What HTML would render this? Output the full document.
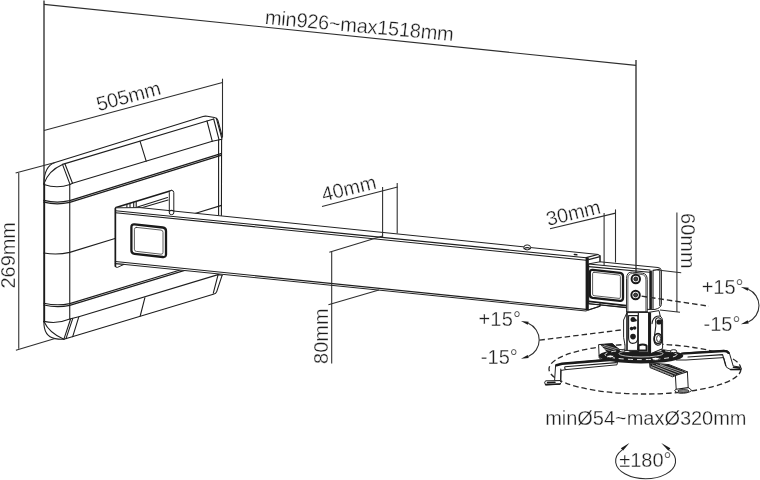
<!DOCTYPE html>
<html><head><meta charset="utf-8"><title>Projector wall mount dimensions</title>
<style>
html,body{margin:0;padding:0;background:#fff;}
body{width:760px;height:480px;overflow:hidden;}
svg{display:block;will-change:transform;}
.t{font-family:"Liberation Sans",sans-serif;font-size:20px;fill:#1e1e1e;stroke:#fff;stroke-width:.3;}
.d{stroke:#2e2e2e;stroke-width:1.08;fill:none;}
.p{stroke:#1e1e1e;stroke-width:1.1;fill:none;stroke-linecap:round;stroke-linejoin:round;}
.pk{stroke:#1a1a1a;stroke-width:1.6;fill:none;stroke-linecap:round;stroke-linejoin:round;}
.th{stroke:#333;stroke-width:.8;fill:none;stroke-linecap:round;}
.w{fill:#fff;stroke:#222;stroke-width:1;stroke-linejoin:round;}
.k{fill:#1c1c1c;stroke:none;}
.ds{stroke:#2a2a2a;stroke-width:1.3;fill:none;stroke-dasharray:5.5 3;}
</style></head>
<body>
<svg width="760" height="480" viewBox="0 0 760 480">
<rect width="760" height="480" fill="#fff"/>



<!-- ===== WALL PLATE ===== -->
<g id="plate">
<!-- outline -->
<path class="pk" style="stroke-width:1.9" d="M44.2 183.7V321.6"/>
<path class="p" d="M43.9 183.7Q44.2 166 55 162.5L203 116.5Q205 115.9 207.2 116.3L214.4 117.5Q217.2 118 217.9 120.4L222.3 136.6L221.6 139.5L221.4 215.5M218.6 140V215"/>
<path class="p" d="M195 213.5L221.5 205.4"/>
<path class="p" d="M43.9 183.7Q48.5 170.5 62.5 164.4L207 121L213.7 119"/>
<path class="p" d="M62.5 164.4L70 184.4M64.9 163.7L72.5 183.3"/>
<path class="p" d="M43.9 184.4Q57 189 70 184.4L72.5 183.3L212.3 141.3L221.8 139.3"/>
<path class="p" d="M207 121L212.3 141.3M213.7 119L219 139.6M216.4 118.4L221.6 137.5"/>
<path class="p" d="M140 141.2L146.2 161.2"/>
<path class="p" d="M69.75 184.4V319"/>
<path class="p" style="stroke-width:1.35" d="M43.9 200.4Q57 203.6 69.75 200.6L220.9 153.6M43.9 202.2Q57 205.4 69.75 202.4L220.9 155.4"/>
<path class="p" d="M43.9 253Q57 255.4 69.75 252.4L115 238.5"/>
<path class="p" d="M43.9 303.2Q57 306.2 69.75 303.6L184.2 268.8M43.9 305Q57 308 69.75 305.4L188 269.4"/>
<path class="p" d="M43.9 321.4Q57 324.4 69.75 319L78.8 316.8L218.1 274.6L222.1 275.3"/>
<path class="p" d="M43.9 321.6Q43.6 336.5 55 338.6Q60 339.6 63.9 339.2L213.3 294.3Q216 293.6 216.7 291.6L222.1 275.3"/>
<path class="p" d="M43.9 321.6Q49.5 333.5 63.9 339.2"/>
<path class="p" d="M70.6 319L63.9 339.2M72.8 318.4L66 338.6M78.8 316.8L72.7 336.6"/>
<path class="p" d="M218.1 274.6L213.3 293.2"/>
<path class="p" d="M144.9 297.7L140.2 316"/>
</g>

<!-- ===== ARM ===== -->
<g id="arm">
<!-- bracket behind -->
<path class="pk" d="M116 207.6L171.6 190.5"/>
<path class="p" d="M137.5 206.9L167.5 197.5M140 208.3L168.1 200"/>
<path class="p" d="M126.9 204.5V208.2M130 203.5V208.2M133.7 202.3V208.2M136.2 201.6V208.2"/>
<!-- arm body -->
<path class="w" d="M115.3 208.4L116 207.8L140 207.6L597.5 254.4L600 255.6V306.2L588 310L586 311L124 264.4L117.4 267.4Q115.3 267.4 115.3 266Z"/>
<path class="p" d="M115.5 210.75L586.2 257.75M115.5 212.75L586.2 260.2"/>
<path class="p" d="M115.3 261.5L586 309.4"/>
<path class="p" d="M115.3 263.6L124 264.4"/>
<path class="pk" d="M115.4 208.4V266.4"/>
<!-- post in front -->
<path class="w" d="M169.3 192.6Q169.3 190.4 171.5 190.4Q173.8 190.4 173.8 192.6V213Q173.8 214.6 171.5 214.6Q169.3 214.6 169.3 213Z"/>
<path class="p" d="M169.3 211Q171.5 209.8 173.8 211"/>
<ellipse class="w" cx="527.2" cy="247.4" rx="3.4" ry="2.5"/>
<path class="p" d="M524 248.6Q527.2 246.6 530.4 248.6"/>
<path class="pk" d="M574.4 254.5L576.8 254.8"/>
<!-- emblem 1 -->
<path d="M134.6 224.4L162.8 227.5Q166 227.9 166 231.1V254.2Q166 257.4 162.8 257L134.6 253.8Q131.4 253.4 131.4 250.2V227.2Q131.4 224 134.6 224.4Z" fill="#fff" stroke="#1a1a1a" stroke-width="2.3" stroke-linejoin="round"/>
<path class="th" d="M136.4 227.4L161 230.1Q163 230.3 163 232.3V252.4Q163 254.4 161 254.2L136.4 251.4Q134.4 251.2 134.4 249.2V229.3Q134.4 227.2 136.4 227.4Z"/>
</g>

<!-- ===== JOINT ===== -->
<g id="joint">
<!-- inner tube -->
<path class="w" d="M600 261.8L658 267.5Q661 267.8 661.4 270.4V304.4Q661 308 655 309.4L651 309.6L626.3 307.5L588.7 303.7V263.9Z"/>
<path class="p" d="M588.7 264L650 270M588.7 266.6L649.4 272.2"/>
<path class="p" d="M653 270.4L659.4 269.4M659.8 271V305.6M653 271V308.4"/>
<path d="M650.6 270.6V309" stroke="#1a1a1a" stroke-width="2.6" fill="none"/>
<path d="M588.7 301.4L626.3 305.6" stroke="#1a1a1a" stroke-width="1.8" fill="none"/>
<path class="p" d="M588.7 303.8L626.3 307.6"/>
<!-- outer arm end -->
<path d="M587.2 257.6V310.2" stroke="#1a1a1a" stroke-width="3.2" fill="none"/>
<path class="p" d="M586.2 257.6L598 254.5M588.6 259.6L600 256.6M600 255.6V261.8M600 302.6V306.2M588.6 310L600 306.2"/>
<!-- emblem 2 -->
<path d="M592.6 269.8L620 272.8Q623 273.2 623 276.2V298Q623 301 620 300.8L592.6 297.8Q589.8 297.4 589.8 294.4V272.8Q589.8 269.6 592.6 269.8Z" fill="#fff" stroke="#1a1a1a" stroke-width="2.3" stroke-linejoin="round"/>
<path class="th" d="M594 272.3L619 275Q620.4 275.2 620.4 276.6V297.2Q620.4 298.6 619 298.4L594 295.7Q592.6 295.5 592.6 294.1V273.7Q592.6 272.2 594 272.3Z"/>
<!-- screw panel -->
<path class="w" d="M626.6 312V278.5Q626.6 271.6 632.5 272.1L642.4 273.2Q647.2 273.8 647.2 279.5V312Z"/>
<path class="th" d="M627.9 312V279Q627.9 273.2 632.8 273.5L642 274.5Q645.9 275 645.9 280V312"/>
<circle cx="635.8" cy="279" r="4.2" fill="#fff" stroke="#1a1a1a" stroke-width="2"/>
<circle cx="635.8" cy="279" r="2" fill="#444" stroke="#1a1a1a" stroke-width=".9"/>
<circle cx="635.6" cy="295" r="4.2" fill="#fff" stroke="#1a1a1a" stroke-width="2"/>
<circle cx="635.6" cy="295" r="2" fill="#444" stroke="#1a1a1a" stroke-width=".9"/>
</g>

<!-- ===== MOUNT ===== -->
<g id="mount">
<!-- dashed circle (behind) -->
<ellipse class="ds" cx="645" cy="369" rx="96" ry="25"/>
<!-- back-left arm with hatching -->
<path class="w" d="M598.6 344.6L599.2 358L604 360.6L622 352.8L612.4 343.6Z"/>
<path class="k" d="M600 344.2L612.2 343.4L622.6 351.2L608 353.2Z"/>
<path d="M602 346L617 350.6M601.4 348L614 351.8M603.6 345L619.4 349.6" stroke="#fff" stroke-width=".5" fill="none"/>
<!-- left long arm -->
<path class="w" d="M555.6 365.4L561.8 363.6L612 359L618 359L617 364.8L566 369.6L561 370.4L560.6 381L554.6 380.6Z"/>
<path d="M556.4 365.2L562 363.8L616 359.4" stroke="#1a1a1a" stroke-width="2.6" fill="none" stroke-linecap="round"/>
<path class="p" d="M565 366.8L616.4 362.6M565 366.8Q564 368.6 566 369.6M560.8 369V381"/>
<path class="w" d="M545.6 380.8L560 380.6Q562.4 382.6 560 384.2L546 384.8Q543.2 383 545.6 380.8Z"/>
<path class="pk" d="M545.6 384.6L560 384"/>
<path class="pk" d="M547.6 382.6L555 382.3"/>
<!-- right long arm -->
<path class="w" d="M676 355L683.7 353L723.7 350.4Q727.6 350.2 729.2 352.4L733.2 366L740.4 367.2Q742 368.4 740.6 369.6L730.6 369.6L726.4 367.2L723.7 357.6L686 360L676 360Z"/>
<path d="M682 353.6L723.7 351Q727 350.9 728.4 352.8" stroke="#1a1a1a" stroke-width="2.4" fill="none" stroke-linecap="round"/>
<path class="p" d="M688 357L722.6 354.6L725.6 365.4"/>
<path class="pk" d="M730.6 369.5L740.6 369.5M733.4 367.2L740 368"/>
<!-- front-right arm -->
<path class="w" d="M649.6 362.8L669 364.6L687.4 371.8L688.2 387.6Q691 389 691.6 390.6Q688 393.6 680 393.2Q675.4 392.4 674.6 390.6L676.2 389.2L675.4 375.6L672.6 376.8L650 367.6Z"/>
<path class="k" d="M650 363.2L668.6 364.8L685.4 371.4L672.8 376.2L650.4 367.2Z"/>
<path d="M652 364.8L676 374.4M656 364.4L679.6 373.2M660 364.6L683 372.2M651 366.6L673 375.6" stroke="#fff" stroke-width=".6" fill="none"/>
<path class="p" d="M675.4 375.6L687.4 371.8M676.2 389.2L688.2 387.6"/>
<ellipse cx="683.4" cy="391" rx="5.6" ry="1.5" fill="#888" stroke="#1a1a1a" stroke-width=".8"/>
<!-- hub -->
<ellipse cx="641" cy="355.8" rx="42.4" ry="7.6" fill="#1c1c1c"/>
<ellipse cx="641" cy="354.6" rx="36" ry="5" fill="none" stroke="#fff" stroke-width=".9" stroke-dasharray="5 4"/>
<ellipse cx="641" cy="353.6" rx="22" ry="3.4" fill="#1c1c1c" stroke="#fff" stroke-width=".7"/>
<ellipse class="w" cx="673.6" cy="351.2" rx="3.2" ry="1.5"/>
<ellipse class="w" cx="610.2" cy="356.4" rx="3.4" ry="1.5"/>
<ellipse class="w" cx="655.6" cy="358.8" rx="3.8" ry="1.6"/>
<ellipse class="w" cx="627" cy="351.2" rx="3" ry="1.3"/>
<!-- swivel bracket: front plate -->
<path class="w" d="M627 312.6L623.6 320V337.4L625 345V350.4L637.6 350.4L638.4 312.6Z"/>
<path class="pk" d="M627 313V350"/>
<path class="p" d="M628.6 315.6H637.8V338Q637.6 343.4 632.6 343.4Q628.6 343 628.6 338Z"/>
<circle class="k" cx="633" cy="319.6" r="2.5"/><circle class="k" cx="635.4" cy="320.2" r="1.3"/>
<circle class="k" cx="631.6" cy="328.6" r="1.8"/><circle class="k" cx="634.6" cy="328" r="1.8"/>
<circle class="k" cx="633" cy="336.6" r="2.8"/>
<!-- middle gap -->
<path class="w" d="M638.4 312.4H648.6V352H638.4Z"/>
<!-- hex nut -->
<path class="k" d="M637.6 346Q637.6 343.4 642.6 343.4Q647.6 343.4 647.6 346V351.6H637.6Z"/>
<path d="M639.6 346.2Q642.6 344.6 645.6 346.2V349.6H639.6Z" fill="#fff"/>
<!-- right side plate -->
<path class="w" d="M648.6 312.4L659 310.6L660.2 316Q662.6 318 662.6 321V348.6L650.8 353.6H648.6Z"/>
<path d="M649.8 312.4V354" stroke="#1a1a1a" stroke-width="2.6" fill="none"/>
<path class="p" d="M652 323.6Q652.6 317.6 657 316.2L660.2 316"/>
<path class="p" d="M655.6 320Q656 317.6 658.8 317.8Q662 318.6 661.6 322.6L661.4 326L661.8 341.6Q660.6 345.4 657.6 345.2Q654 344.4 654 339.6L655.8 326Z"/>
<circle cx="659" cy="322" r="2.6" fill="#1c1c1c"/>
<ellipse cx="658" cy="338.6" rx="3.8" ry="5" fill="#fff" stroke="#1a1a1a" stroke-width="1.6"/>
<ellipse cx="658.6" cy="338.6" rx="2" ry="3.2" fill="none" stroke="#1a1a1a" stroke-width=".9"/>
<!-- upper panel bottom edge & end-cap bottom -->
<path class="p" d="M626.6 312H647.2"/>
</g>

<!-- ===== dimension lines ===== -->
<g class="d">
<path d="M44 0.5V184" stroke-width="1.35"/>
<path d="M44 4.4L636 65.4"/>
<path d="M636 60V272" stroke-width="1.35"/>
<path d="M44 130.5L222.5 82.5"/>
<path d="M222.5 78.7V137"/>
<path d="M15.6 173.1L55 162.5"/>
<path d="M18.75 173V348.7"/>
<path d="M15.9 350.2L55 338.4"/>
<path d="M322 206.6L397.6 187.1"/>
<path d="M382.6 187V237.5"/>
<path d="M397.2 183V233.6"/>
<path d="M329.3 252.3L382.6 236"/>
<path d="M331.7 251.8V363.4"/>
<path d="M328.4 304.7L378.9 290"/>
<path d="M550 228.7L615.6 213.1"/>
<path d="M604.1 213.1V266"/>
<path d="M615.5 209.4V262.5"/>
<path d="M676.9 212.5V311.9"/>
<path d="M657.5 270L681.2 272.7"/>
<path d="M660 310L680 312.2"/>
</g>

<!-- ===== rotation indicators ===== -->
<g id="rot">
<path class="ds" d="M539.4 340.2L624 329.6"/>
<path class="ds" d="M641.6 296.2L709 306.2"/>
<path class="d" d="M528.23 323.33A18 18 0 0 1 528.23 356.47"/>
<path class="k" d="M520.93 321.03L528.71 321.80L527.75 324.86Z"/>
<path class="k" d="M520.93 358.77L527.75 354.94L528.71 358.00Z"/>
<path class="d" d="M748.22 289.31A17.7 17.7 0 0 1 748.22 321.89"/>
<path class="k" d="M740.92 287.01L748.70 287.78L747.74 290.83Z"/>
<path class="k" d="M740.92 324.19L747.74 320.37L748.70 323.42Z"/>
<path class="d" d="M621.9 450.12A30 17.75 0 1 0 669.4 450.19"/>
<path class="k" d="M629.40 443.10L622.94 450.73L620.86 448.30Z"/>
<path class="k" d="M661.25 443.10L670.40 448.34L668.40 450.85Z"/>
</g>

<!-- ===== text ===== -->
<g class="t">
<text transform="translate(264.5 23.8) rotate(5.25)" textLength="189.4" lengthAdjust="spacing">min926~max1518mm</text>
<text transform="translate(98.4 111.2) rotate(-15.0)" textLength="66" lengthAdjust="spacing">505mm</text>
<text transform="translate(14.5 288.4) rotate(-90.0)" textLength="66.3" lengthAdjust="spacing">269mm</text>
<text transform="translate(323.4 201.4) rotate(-13.5)" textLength="55.5" lengthAdjust="spacing">40mm</text>
<text transform="translate(327.50 363.90) rotate(-90.0)" textLength="55.5" lengthAdjust="spacing">80mm</text>
<text transform="translate(548 226) rotate(-13.5)" textLength="55.2" lengthAdjust="spacing">30mm</text>
<text transform="translate(681.25 213.00) rotate(90.0)" textLength="55.6" lengthAdjust="spacing">60mm</text>
<text x="701.70" y="293.75" textLength="41.8" lengthAdjust="spacing">+15°</text>
<text x="703.60" y="331.25" textLength="36.8" lengthAdjust="spacing">-15°</text>
<text x="478.40" y="325.9" textLength="42.6" lengthAdjust="spacing">+15°</text>
<text x="480.80" y="363.9" textLength="37.0" lengthAdjust="spacing">-15°</text>
<text x="545.20" y="425.3" textLength="201.3" lengthAdjust="spacing">minØ54~maxØ320mm</text>
<text x="619.20" y="466.9" textLength="52.4" lengthAdjust="spacing">±180°</text>
</g>
</svg>
</body></html>
